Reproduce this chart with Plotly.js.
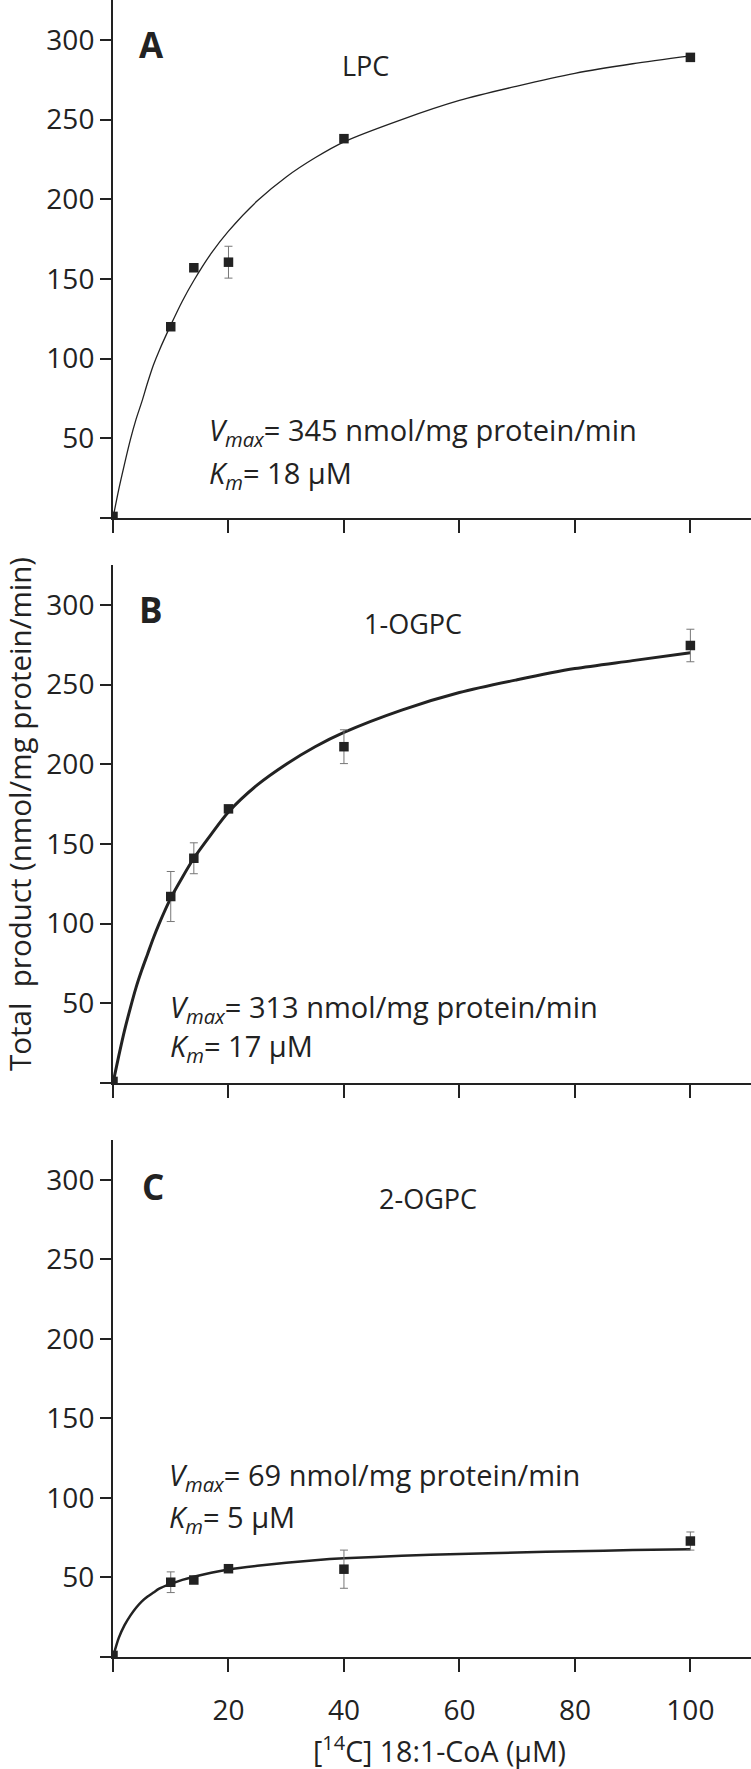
<!DOCTYPE html>
<html>
<head>
<meta charset="utf-8">
<script src="https://cdn.plot.ly/plotly-3.0.1.min.js"></script>
<style>
  html, body { margin: 0; padding: 0; background: #fff; }
  #chart { width: 751px; height: 1769px; }
</style>
</head>
<body>
<div id="chart"></div>
<script>
// substrate concentrations (uM) and measured product, three acceptors
var conc = [0, 10, 14, 20, 40, 100];
var lpcMean = [1, 120, 157, 160.5, 238, 289];
var lpcErr = [0, 0, 0, 10, 0, 0];
var ogpc1Mean = [1, 117, 141, 172, 211, 274.5];
var ogpc1Err = [0, 15.7, 9.7, 2, 10.6, 10.2];
var ogpc2Mean = [1, 47, 48.4, 55.5, 55.2, 72.9];
var ogpc2Err = [0, 6.5, 2, 1.5, 12, 5.7];

// fitted curves
var fitConc = [0, 1, 2, 3, 4, 5, 6, 7, 8, 10, 12, 14, 17, 20, 25, 30, 35, 40, 50, 60, 70, 80, 90, 100];
var lpcFit = [0, 18, 34, 49, 62, 73, 85, 96, 105, 121, 136, 149, 166, 180, 199, 214, 226, 236, 250, 262, 271, 279, 285, 290];
var ogpc1Fit = [0, 17, 33, 47, 60, 71, 81, 91, 100, 116, 129, 141, 156, 170, 187, 200, 211, 220, 234, 245, 253, 260, 265, 270];
var ogpc2Fit = [0, 12, 20, 26, 31, 35, 38, 40.5, 43, 46, 48.5, 50.5, 53, 55, 57.3, 59.2, 60.8, 62, 63.6, 64.8, 65.7, 66.5, 67.2, 67.8];

var yTicks = [0, 50, 100, 150, 200, 250, 300];
var yTickText = ['', '50', '100', '150', '200', '250', '300'];
var xTicks = [0, 20, 40, 60, 80, 100];
var xTickText = ['', '20', '40', '60', '80', '100'];

var ink = '#222';
var font = 'Open Sans, sans-serif';

function fitTrace(y, xa, ya, w) {
    return {
        x: fitConc, y: y, xaxis: xa, yaxis: ya,
        type: 'scatter', mode: 'lines',
        line: {color: ink, width: w, shape: 'spline', smoothing: 0.8},
        hoverinfo: 'skip'
    };
}

function pointTrace(y, err, xa, ya) {
    return {
        x: conc, y: y, xaxis: xa, yaxis: ya,
        type: 'scatter', mode: 'markers',
        marker: {symbol: 'square', size: 9.5, color: ink},
        error_y: {type: 'data', array: err, visible: true, color: '#777', thickness: 1, width: 4}
    };
}

var data = [
    fitTrace(lpcFit, 'x', 'y', 1.3),
    pointTrace(lpcMean, lpcErr, 'x', 'y'),
    fitTrace(ogpc1Fit, 'x2', 'y2', 3),
    pointTrace(ogpc1Mean, ogpc1Err, 'x2', 'y2'),
    fitTrace(ogpc2Fit, 'x3', 'y3', 2.5),
    pointTrace(ogpc2Mean, ogpc2Err, 'x3', 'y3')
];

function xAxis(anchor, labels) {
    return {
        anchor: anchor, range: [0, 110.5],
        showgrid: false, zeroline: false,
        showline: true, linecolor: ink, linewidth: 2,
        ticks: 'outside', ticklen: 13, tickwidth: 2, tickcolor: ink,
        ticklabelstandoff: 14,
        tickvals: xTicks, ticktext: labels,
        tickfont: {family: font, size: 28, color: ink}
    };
}

function yAxis(anchor, domain) {
    return {
        anchor: anchor, domain: domain, range: [0, 325],
        showgrid: false, zeroline: false,
        showline: true, linecolor: ink, linewidth: 2,
        ticks: 'outside', ticklen: 11, tickwidth: 2, tickcolor: ink,
        tickvals: yTicks, ticktext: yTickText,
        tickfont: {family: font, size: 28, color: ink}
    };
}

function note(text, xa, ya, x, y, opts) {
    var a = {
        text: text, xref: xa, yref: ya, x: x, y: y,
        showarrow: false, xanchor: 'center', yanchor: 'middle',
        font: {family: font, size: 27, color: ink}
    };
    for (var k in opts) a[k] = opts[k];
    return a;
}

var bold = {font: {family: font, size: 35, color: ink, weight: 'bold'}};
var left = {xanchor: 'left', font: {family: font, size: 29, color: ink}};

var layout = {
    width: 751, height: 1769,
    margin: {l: 113, r: 0, t: 0, b: 112},
    paper_bgcolor: '#fff', plot_bgcolor: '#fff',
    showlegend: false,
    xaxis: xAxis('y', ['', '', '', '', '', '']),
    yaxis: yAxis('x', [0.68739, 1]),
    xaxis2: xAxis('y2', ['', '', '', '', '', '']),
    yaxis2: yAxis('x2', [0.34641, 0.65902]),
    xaxis3: xAxis('y3', xTickText),
    yaxis3: yAxis('x3', [0, 0.31201]),
    annotations: [
        note('<b>A</b>', 'x', 'y', 6.65, 297, bold),
        note('LPC', 'x', 'y', 43.7, 283.6, {}),
        note('<i>V</i><sub><i>max</i></sub>= 345 nmol/mg protein/min', 'x', 'y', 16.2, 54, left),
        note('<i>K</i><sub><i>m</i></sub>= 18 µM', 'x', 'y', 16.2, 27.6, left),

        note('<b>B</b>', 'x2', 'y2', 6.6, 297, bold),
        note('1-OGPC', 'x2', 'y2', 52.0, 288.3, {}),
        note('<i>V</i><sub><i>max</i></sub>= 313 nmol/mg protein/min', 'x2', 'y2', 9.5, 47, left),
        note('<i>K</i><sub><i>m</i></sub>= 17 µM', 'x2', 'y2', 9.5, 22, left),

        note('<b>C</b>', 'x3', 'y3', 7.0, 295.5, bold),
        note('2-OGPC', 'x3', 'y3', 54.5, 288.2, {}),
        note('<i>V</i><sub><i>max</i></sub>= 69 nmol/mg protein/min', 'x3', 'y3', 9.4, 113.5, left),
        note('<i>K</i><sub><i>m</i></sub>= 5 µM', 'x3', 'y3', 9.4, 87.2, left),

        // shared axis titles
        note('Total  product (nmol/mg protein/min)', 'paper', 'paper', -0.1458, 0.5088,
             {textangle: -90, font: {family: font, size: 29.5, color: ink}}),
        note('[<sup>14</sup>C] 18:1-CoA (µM)', 'paper', 'paper', 0.5125, -0.0558,
             {font: {family: font, size: 28.5, color: ink}})
    ]
};

Plotly.newPlot('chart', data, layout, {displayModeBar: false, staticPlot: true});
</script>
</body>
</html>
